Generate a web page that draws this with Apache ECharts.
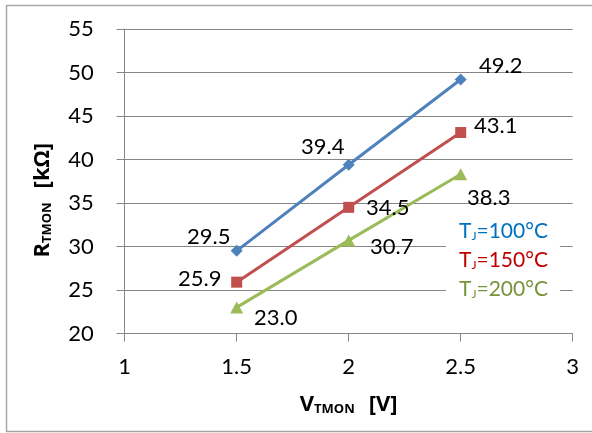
<!DOCTYPE html>
<html><head><meta charset="utf-8">
<script src="https://cdn.jsdelivr.net/npm/echarts@6/dist/echarts.min.js"></script>
<style>html,body{margin:0;padding:0;background:#fff}#c{width:592px;height:433px}</style>
</head><body><div id="c"></div>
<script>
const xValues = [1.5, 2, 2.5];
const seriesNames = ['TJ=100°C', 'TJ=150°C', 'TJ=200°C'];
const legendTemps = ['100', '150', '200'];
const r100 = [29.5, 39.4, 49.2];
const r150 = [25.9, 34.5, 43.1];
const r200 = [23.0, 30.7, 38.3];

const FONT = 'Lato';
const BFONT = 'Open Sans';
const lineColors = ['#4F81BD', '#C0504D', '#9BBB59'];
const textColors = ['#0070C0', '#C00000', '#77933C'];
const symbols = ['diamond', 'rect', 'triangle'];
const symbolSizes = [[12, 12], 11, [13, 12]];
const labelOffsets = [
  [[-28, -14], [-26, -18], [40, -14]],
  [[-37, -3], [39, 1], [35, -7]],
  [[39, 11], [43, 6], [28, 24]]
];

function mkSeries(i, vals) {
  return {
    name: seriesNames[i], type: 'line',
    data: xValues.map((x, k) => ({
      value: [x, vals[k]],
      label: { offset: labelOffsets[i][k] }
    })),
    symbol: symbols[i], symbolSize: symbolSizes[i],
    lineStyle: { color: lineColors[i], width: 3 },
    itemStyle: { color: lineColors[i] },
    label: {
      show: true, position: 'inside', color: '#000',
      fontFamily: FONT, fontSize: 22,
      formatter: p => p.value[1].toFixed(1)
    },
    animation: false
  };
}

const titleRich = {
  m: { fontFamily: BFONT, fontSize: 22, fontWeight: 'bold', color: '#000' },
  s: { fontFamily: BFONT, fontSize: 13, fontWeight: 'bold', color: '#000', padding: [9, 0, 0, 0] },
  g: { fontFamily: BFONT, fontSize: 22, fontWeight: 'bold', color: '#000', padding: [0, 0, 0, 14] }
};

const chart = echarts.init(document.getElementById('c'), null, { renderer: 'canvas' });
chart.setOption({
  animation: false,
  grid: { left: 124.7, right: 19.3, top: 29, bottom: 99.5 },
  xAxis: {
    type: 'value', min: 1, max: 3, interval: 0.5,
    axisLine: { show: true, onZero: false, lineStyle: { color: '#868686', width: 1 } },
    axisTick: { show: true, length: 8, lineStyle: { color: '#868686' } },
    splitLine: { show: false },
    axisLabel: { color: '#000', fontFamily: FONT, fontSize: 22, margin: 22 },
    name: '{m|V}{s|TMON}{g|[V]}', nameLocation: 'middle', nameGap: 60,
    nameTextStyle: { rich: titleRich }
  },
  yAxis: {
    type: 'value', min: 20, max: 55, interval: 5,
    axisLine: { show: true, lineStyle: { color: '#868686', width: 1 } },
    axisTick: { show: true, length: 8, lineStyle: { color: '#868686' } },
    splitLine: { show: true, lineStyle: { color: '#868686', width: 1 } },
    axisLabel: { color: '#000', fontFamily: FONT, fontSize: 22, margin: 31 },
    name: '{m|R}{s|TMON}{g|[kΩ]}', nameLocation: 'middle', nameGap: 71, nameRotate: 90,
    nameTextStyle: { padding: [0, 38, 0, 0], rich: titleRich }
  },
  legend: {
    orient: 'vertical', left: 446, top: 219, itemGap: 8,
    backgroundColor: '#fff', padding: [2, 12, 4, 8],
    icon: 'none', itemWidth: 0, itemHeight: 10,
    data: seriesNames.map((n, i) => ({ name: n, textStyle: { color: textColors[i] } })),
    formatter: name => {
      const i = seriesNames.indexOf(name);
      return '{m|T}{s|J}{m|=' + legendTemps[i] + '°C}';
    },
    textStyle: {
      rich: {
        m: { fontFamily: FONT, fontSize: 21 },
        s: { fontFamily: FONT, fontSize: 12, padding: [9, 0, 0, 0] }
      }
    },
    selectedMode: false
  },
  graphic: [{
    type: 'rect', shape: { x: 6.5, y: 5.5, width: 600, height: 426 },
    style: { fill: 'none', stroke: '#A6A6A6', lineWidth: 1.5 }, silent: true, z: -1
  }],
  series: [mkSeries(0, r100), mkSeries(1, r150), mkSeries(2, r200)]
});
</script></body></html>
